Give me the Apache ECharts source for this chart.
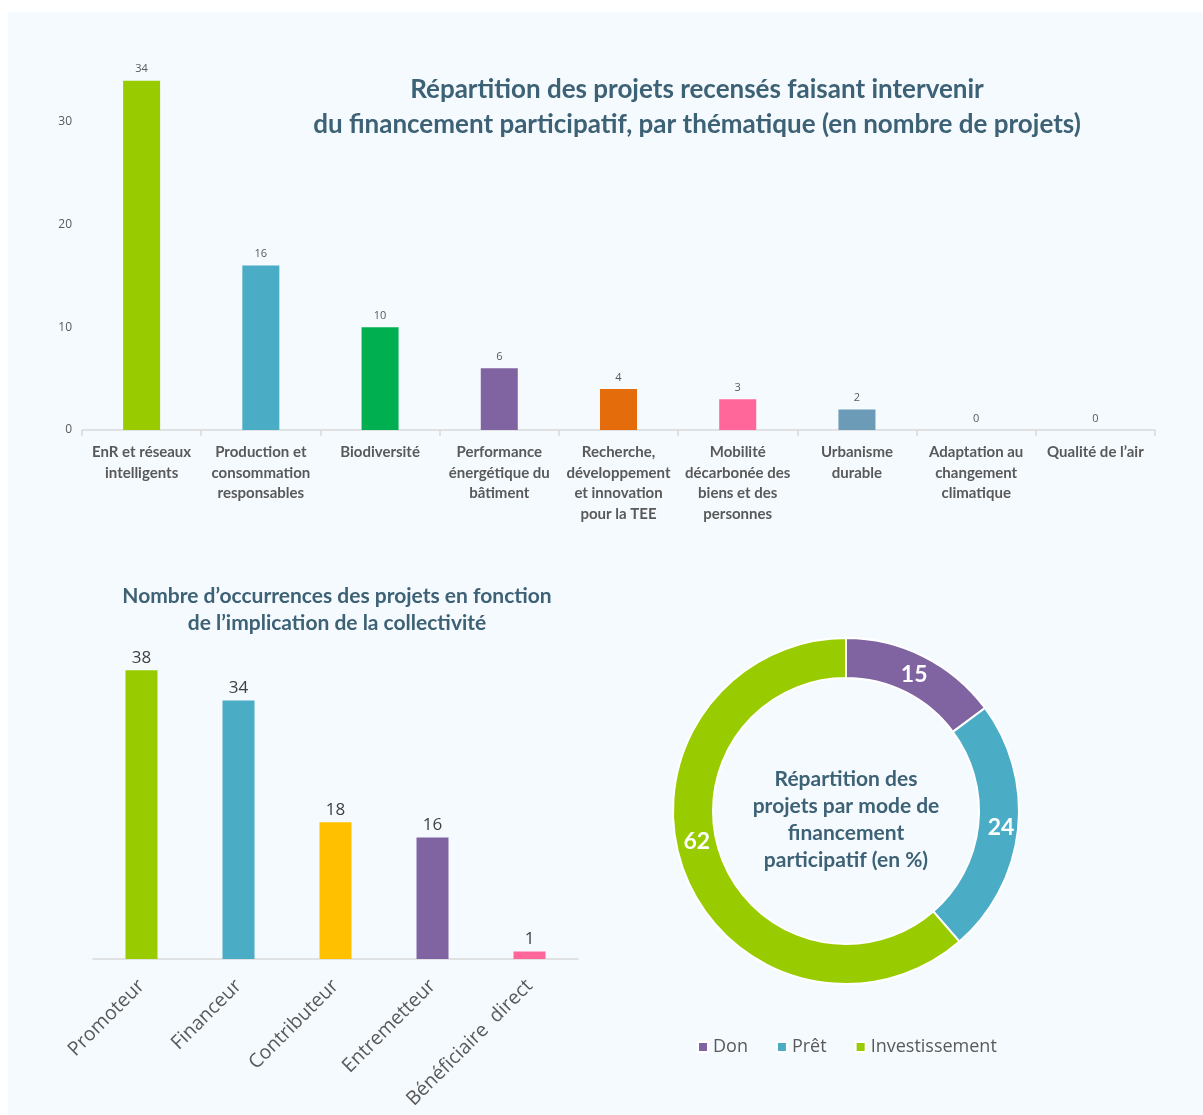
<!DOCTYPE html>
<html>
<head>
<meta charset="utf-8">
<script src="https://cdn.jsdelivr.net/npm/echarts@6/dist/echarts.min.js"></script>
<style>
html, body { margin:0; padding:0; background:#ffffff; }
#chart { width:1203px; height:1115px; }
</style>
</head>
<body>
<div id="chart"></div>
<script>
// données - thématiques
var themes = ['EnR et réseaux\nintelligents', 'Production et\nconsommation\nresponsables', 'Biodiversité',
  'Performance\nénergétique du\nbâtiment', 'Recherche,\ndéveloppement\net innovation\npour la TEE',
  'Mobilité\ndécarbonée des\nbiens et des\npersonnes', 'Urbanisme\ndurable', 'Adaptation au\nchangement\nclimatique',
  'Qualité de l’air'];
var themeValues = [34, 16, 10, 6, 4, 3, 2, 0, 0];
var themeColors = ['#99cc00', '#4bacc6', '#00b050', '#8064a2', '#e46c0a', '#ff6699', '#6b9bb6', '#99cc00', '#99cc00'];

// implication de la collectivité
var roles = ['Promoteur', 'Financeur', 'Contributeur', 'Entremetteur', 'Bénéficiaire  direct'];
var roleValues = [38, 34, 18, 16, 1];
var roleColors = ['#99cc00', '#4bacc6', '#ffc000', '#8064a2', '#ff6699'];

// mode de financement
var modes = ['Don', 'Prêt', 'Investissement'];
var modeValues = [15, 24, 62];
var modeColors = ['#8064a2', '#4bacc6', '#99cc00'];

var titleColor = '#3d6175';
var chart = echarts.init(document.getElementById('chart'));

var option = {
  backgroundColor: '#ffffff',
  animation: false,
  graphic: [
    { type: 'rect', z: -10, shape: { x: 8, y: 12, width: 1195, height: 1103 }, style: { fill: '#f5fafe' } },
    { type: 'text', style: { x: 697, y: 72, text: 'Répartition des projets recensés faisant intervenir\ndu financement participatif, par thématique (en nombre de projets)',
        textAlign: 'center', font: 'bold 26px Lato', lineHeight: 35, fill: titleColor } },
    { type: 'text', style: { x: 337, y: 583, text: 'Nombre d’occurrences des projets en fonction\nde l’implication de la collectivité',
        textAlign: 'center', font: 'bold 21px Lato', lineHeight: 27, fill: titleColor } },
    { type: 'text', z: 10, style: { x: 846, y: 766, text: 'Répartition des\nprojets par mode de\nfinancement\nparticipatif (en %)',
        textAlign: 'center', font: 'bold 21px Lato', lineHeight: 27, fill: titleColor } }
  ],
  grid: [
    { left: 82, right: 48, top: 19, bottom: 685 },
    { left: 93, right: 625, top: 655, bottom: 156 }
  ],
  xAxis: [
    {
      type: 'category', gridIndex: 0, data: themes,
      axisLine: { lineStyle: { color: '#d9d9d9', width: 1.5 } },
      axisTick: { show: true, length: 6, lineStyle: { color: '#d9d9d9', width: 1.5 } },
      axisLabel: { interval: 0, margin: 12, color: '#595959', fontFamily: 'Lato', fontWeight: 'bold', fontSize: 15, lineHeight: 20.5 }
    },
    {
      type: 'category', gridIndex: 1, data: roles,
      axisLine: { lineStyle: { color: '#d9d9d9', width: 1.5 } },
      axisTick: { show: false },
      axisLabel: { interval: 0, rotate: 45, margin: 24, color: '#595959', fontFamily: 'Open Sans', fontSize: 19.5 }
    }
  ],
  yAxis: [
    {
      type: 'value', gridIndex: 0, min: 0, max: 40, interval: 10,
      splitLine: { show: false }, axisLine: { show: false }, axisTick: { show: false },
      axisLabel: { showMaxLabel: false, margin: 10, color: '#595959', fontFamily: 'Open Sans', fontSize: 12 }
    },
    {
      type: 'value', gridIndex: 1, min: 0, max: 40, show: false, splitLine: { show: false }
    }
  ],
  legend: {
    data: modes, left: 692, top: 1033, icon: 'rect', itemWidth: 10, itemHeight: 10, itemGap: 28,
    textStyle: { color: '#595959', fontFamily: 'Open Sans', fontSize: 18 }
  },
  series: [
    {
      type: 'bar', xAxisIndex: 0, yAxisIndex: 0, barWidth: 37,
      data: themeValues.map(function (v, i) { return { value: v, itemStyle: { color: themeColors[i] } }; }),
      label: { show: true, position: 'top', distance: 6, color: '#595959', fontFamily: 'Open Sans', fontSize: 11 }
    },
    {
      type: 'bar', xAxisIndex: 1, yAxisIndex: 1, barWidth: 32,
      data: roleValues.map(function (v, i) { return { value: v, itemStyle: { color: roleColors[i] } }; }),
      label: { show: true, position: 'top', distance: 4, color: '#404040', fontFamily: 'Open Sans', fontSize: 17 }
    },
    {
      type: 'pie', center: [846, 811], radius: [133, 173], startAngle: 90, clockwise: true,
      itemStyle: { borderColor: '#ffffff', borderWidth: 2 },
      label: { show: true, position: 'inside', color: '#ffffff', fontFamily: 'Lato', fontWeight: 'bold', fontSize: 23, formatter: '{c}' },
      labelLine: { show: false },
      emphasis: { disabled: true },
      data: modes.map(function (m, i) {
        var d = { name: m, value: modeValues[i], itemStyle: { color: modeColors[i] } };
        if (i === 0) d.label = { offset: [-2, 3] };
        if (i === 2) d.label = { offset: [-3, -24] };
        return d;
      })
    }
  ]
};
chart.setOption(option);
</script>
</body>
</html>
